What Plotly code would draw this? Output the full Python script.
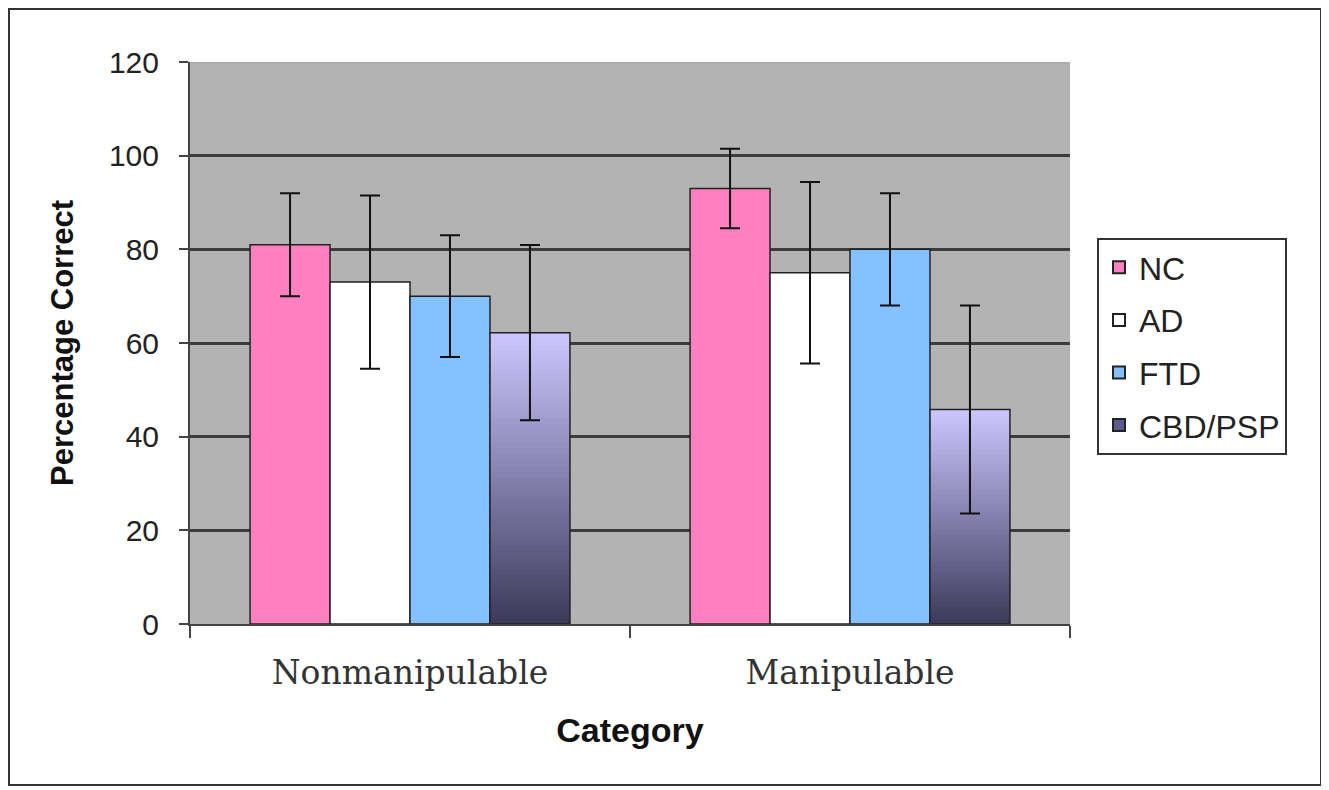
import plotly.graph_objects as go

# ---- data ----
CATEGORIES = ["Nonmanipulable", "Manipulable"]
NC = [81, 93]
NC_ERR = [11, 8.5]
AD = [73, 75]
AD_ERR = [18.5, 19.4]
FTD = [70, 80]
FTD_ERR = [13, 12]
CBD = [62.2, 45.8]
CBD_ERR = [18.7, 22.2]
SERIES_NAMES = ["NC", "AD", "FTD", "CBD/PSP"]
Y_TICKS = [0, 20, 40, 60, 80, 100, 120]

# ---- style ----
SANS = "Liberation Sans, Arial, sans-serif"
SERIF = "DejaVu Serif, serif"
OUTLINE = "#222222"
ERR = dict(type="data", visible=True, color="#111111", thickness=2, width=10)
GRAD_BOTTOM = (60, 57, 90)
GRAD_TOP = (205, 198, 255)
N_LAYERS = 48

# page offset of the figure (browser body margin)
OFF = 8
L, R, T, B = 190 - OFF, 1329 - 1070 + OFF, 62 - OFF, 790 - 624 + OFF
PW, PH = 1329 - L - R, 790 - T - B


def lerp(c0, c1, t):
    return "rgb(%d,%d,%d)" % tuple(round(a + (b - a) * t) for a, b in zip(c0, c1))


fig = go.Figure()

for name, vals, errs, color, grp in [
    (SERIES_NAMES[0], NC, NC_ERR, "#ff80c0", "nc"),
    (SERIES_NAMES[1], AD, AD_ERR, "#ffffff", "ad"),
    (SERIES_NAMES[2], FTD, FTD_ERR, "#85c1ff", "ftd"),
]:
    fig.add_trace(go.Bar(
        x=CATEGORIES, y=vals, name=name, offsetgroup=grp, legendgroup=grp,
        marker=dict(color=color, line=dict(color=OUTLINE, width=1.5)),
        error_y=dict(array=errs, **ERR),
    ))

# gradient-filled CBD/PSP bars (painter's layering, bottom dark -> top light)
for k in range(N_LAYERS):
    frac = k / N_LAYERS
    fig.add_trace(go.Bar(
        x=CATEGORIES,
        base=[v * frac for v in CBD],
        y=[v * (1 - frac) for v in CBD],
        offsetgroup="cbd", legendgroup="cbd", showlegend=False, hoverinfo="skip",
        marker=dict(color=lerp(GRAD_BOTTOM, GRAD_TOP, (k + 0.5) / N_LAYERS), line=dict(width=0)),
    ))

# outline + error bars for CBD/PSP
fig.add_trace(go.Bar(
    x=CATEGORIES, y=CBD, name=SERIES_NAMES[3], offsetgroup="cbd", legendgroup="cbd",
    showlegend=False,
    marker=dict(color="rgba(0,0,0,0)", line=dict(color=OUTLINE, width=1.5)),
    error_y=dict(array=CBD_ERR, **ERR),
))
# legend entry for CBD/PSP
fig.add_trace(go.Bar(
    x=CATEGORIES, y=[None, None], name=SERIES_NAMES[3], offsetgroup="cbd", legendgroup="cbd2",
    marker=dict(color="#5c5a8c", line=dict(color=OUTLINE, width=1.5)),
))

fig.update_layout(
    width=1329, height=790,
    margin=dict(l=L, r=R, t=T, b=B, autoexpand=False),
    paper_bgcolor="white",
    plot_bgcolor="#b3b3b3",
    barmode="group", bargap=0.273, bargroupgap=0,
    font=dict(family=SANS, color="#1a1a1a", size=28),
    showlegend=True,
    legend=dict(
        x=(1097 - 190) / PW, xanchor="left", y=(624 - 238) / PH, yanchor="top",
        bgcolor="white", bordercolor="#333333", borderwidth=2,
        font=dict(family=SANS, size=32, color="#222222"),
        traceorder="grouped", tracegroupgap=8,
        itemsizing="constant",
    ),
    xaxis=dict(
        type="category",
        showline=True, linecolor="#444444", linewidth=2,
        ticks="outside", tickson="boundaries", ticklen=12, tickwidth=2, tickcolor="#444444",
        tickfont=dict(family=SERIF, size=33, color="#333333"),
        ticklabelstandoff=18,
        title=dict(text="<b>Category</b>", font=dict(family=SANS, size=34, color="#111111"), standoff=28),
        showgrid=False,
    ),
    yaxis=dict(
        range=[Y_TICKS[0], Y_TICKS[-1]],
        tickvals=Y_TICKS,
        showline=True, linecolor="#444444", linewidth=2,
        ticks="outside", ticklen=9, tickwidth=2, tickcolor="#444444",
        tickfont=dict(family=SANS, size=30, color="#222222"),
        ticklabelstandoff=14,
        showgrid=True, gridcolor="#3c3c3c", gridwidth=2.5,
        zeroline=False,
        title=dict(text="<b>Percentage Correct</b>", font=dict(family=SANS, size=31, color="#111111"), standoff=26),
    ),
    shapes=[
        dict(type="line", xref="paper", yref="y", x0=0, x1=1, y0=Y_TICKS[-1], y1=Y_TICKS[-1],
             line=dict(color="#a8a8a8", width=2.5), layer="above"),
        dict(type="rect", xref="paper", yref="paper",
             x0=(1 - L) / PW, x1=(1313 - L) / PW,
             y0=(PH + T - 777) / PH, y1=(PH + T - 1) / PH,
             line=dict(color="#333333", width=2), fillcolor="rgba(0,0,0,0)", layer="below"),
    ],
)

fig.write_html("out.html")
